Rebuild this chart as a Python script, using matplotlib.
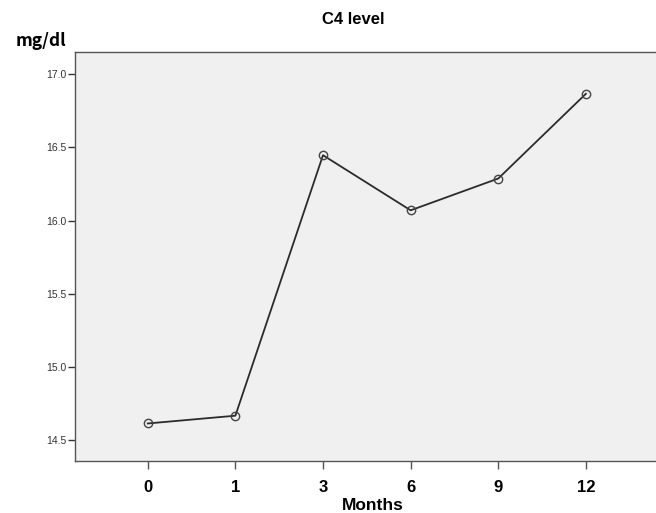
import matplotlib
matplotlib.use("Agg")
import matplotlib.pyplot as plt

months = ["0", "1", "3", "6", "9", "12"]
c4_values = [14.616, 14.669, 16.446, 16.07, 16.287, 16.865]
y_ticks = [14.5, 15.0, 15.5, 16.0, 16.5, 17.0]

plt.rcParams['font.family'] = ['Liberation Sans', 'DejaVu Sans']

fig = plt.figure(figsize=(6.56, 5.13), dpi=100)
ax = fig.add_axes([75/656, 52/513, 1 - 75/656, (461-52)/513])
ax.set_facecolor('#f0f0f0')

x = list(range(len(months)))
ax.plot(x, c4_values, color='#2b2b2b', linewidth=1.3, marker='o', markersize=6,
        markerfacecolor='none', markeredgecolor='#444444', markeredgewidth=1.0)

ax.set_xlim(-0.83, 5.8)
ax.set_ylim(14.36, 17.15)
ax.set_yticks(y_ticks)
ax.set_yticklabels([f"{v:.1f}" for v in y_ticks], fontsize=7.5, color='#333333')
ax.set_xticks(x)
ax.set_xticklabels(months, fontsize=12, fontweight='bold')

for side in ['left', 'bottom', 'top']:
    ax.spines[side].set_color('#555555')
    ax.spines[side].set_linewidth(1.0)
ax.spines['right'].set_visible(False)
ax.tick_params(axis='y', direction='out', length=5, width=1, color='#333333', pad=1)
ax.tick_params(axis='x', direction='out', length=6, width=1, color='#555555', pad=8)

fig.text(373/656, 1 - 505/513, "Months", ha='center', va='center',
         fontsize=12.5, fontweight='bold')
fig.text(353/656, 1 - 20/513, "C4 level", ha='center', va='center',
         fontsize=12, fontweight='bold')
fig.text(16/656, 1 - 41/513, "mg/dl", ha='left', va='center',
         fontsize=12.5, fontweight='bold', family=['Noto Sans CJK JP', 'DejaVu Sans'])

fig.savefig("out.png", dpi=100)
